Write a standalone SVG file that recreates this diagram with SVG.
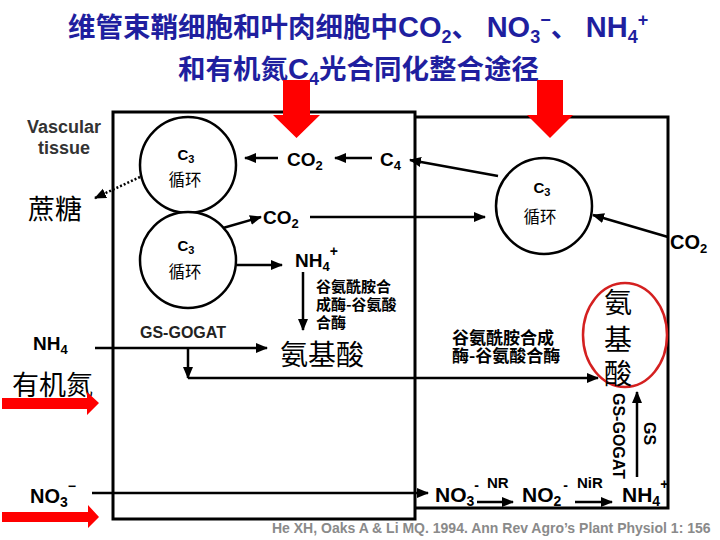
<svg xmlns="http://www.w3.org/2000/svg" width="720" height="540" viewBox="0 0 720 540">
<style>
.title{font-family:"Liberation Sans","Noto Sans CJK SC",sans-serif;font-weight:bold;font-size:27.5px;fill:#1f1f9f}
.lat{font-family:"Liberation Sans",Arial,"Noto Sans CJK SC",sans-serif;font-weight:bold;fill:#000}
.cjk{font-family:"Noto Sans CJK SC",sans-serif;fill:#000}
.cjkb{font-family:"Noto Sans CJK SC",sans-serif;font-weight:bold;fill:#000}
.box{fill:none;stroke:#000;stroke-width:3}
.cyc{fill:#fff;stroke:#000;stroke-width:2.5}
.arr{fill:none;stroke:#000;stroke-width:2.5;marker-end:url(#ah)}
.dot{fill:none;stroke:#000;stroke-width:2.5;stroke-dasharray:2 2;marker-end:url(#ah)}
.red{fill:#ff0000}
</style>
<defs>
<marker id="ah" markerUnits="userSpaceOnUse" markerWidth="13" markerHeight="11" refX="11" refY="5" orient="auto">
<path d="M0,0 L12,5 L0,10 z" fill="#000"/>
</marker>
</defs>
<rect width="720" height="540" fill="#fff"/>

<g id="title">
<text x="68" y="37" class="title">维管束鞘细胞和叶肉细胞中<tspan font-size="29">CO</tspan><tspan font-size="18" dy="6">2</tspan><tspan dy="-6">、 </tspan><tspan font-size="29">NO</tspan><tspan font-size="18" dy="6">3</tspan><tspan font-size="18" dy="-17">−</tspan><tspan dy="11">、 </tspan><tspan font-size="29">NH</tspan><tspan font-size="18" dy="6">4</tspan><tspan font-size="18" dy="-17">+</tspan></text>
<text x="178" y="79" class="title">和有机氮<tspan font-size="29">C</tspan><tspan font-size="18" dy="6">4</tspan><tspan dy="-6">光合同化整合途径</tspan></text>
</g>

<g id="cells">
<path class="box" d="M113,112 H415 V519 H113 Z"/>
<path class="box" d="M415,117 H668 V508 H415"/>
</g>

<g id="c3-cycle-1">
<circle class="cyc" cx="188" cy="165" r="48"/>
<text x="186" y="160" class="lat" font-size="15" text-anchor="middle">C<tspan font-size="11" dy="3">3</tspan></text>
<text x="185" y="186" class="cjk" font-size="16.5" text-anchor="middle">循环</text>
</g>
<g id="c3-cycle-2">
<circle class="cyc" cx="188" cy="260" r="48"/>
<text x="186" y="251" class="lat" font-size="15" text-anchor="middle">C<tspan font-size="11" dy="3">3</tspan></text>
<text x="185" y="278" class="cjk" font-size="16.5" text-anchor="middle">循环</text>
</g>
<g id="c3-cycle-3">
<circle class="cyc" cx="544" cy="206" r="48"/>
<text x="542" y="193" class="lat" font-size="15" text-anchor="middle">C<tspan font-size="11" dy="3">3</tspan></text>
<text x="540" y="223" class="cjk" font-size="16.5" text-anchor="middle">循环</text>
</g>

<g id="labels">
<text x="64" y="133" class="lat" font-size="18" text-anchor="middle" style="fill:#333">Vascular</text>
<text x="64" y="154" class="lat" font-size="18" text-anchor="middle" style="fill:#333">tissue</text>
<text x="28" y="219" class="cjk" font-size="27">蔗糖</text>
<text x="287" y="166" class="lat" font-size="19">CO<tspan font-size="13" dy="4">2</tspan></text>
<text x="380" y="166" class="lat" font-size="19">C<tspan font-size="13" dy="4">4</tspan></text>
<text x="263" y="224" class="lat" font-size="19">CO<tspan font-size="13" dy="4">2</tspan></text>
<text x="295" y="267" class="lat" font-size="19">NH<tspan font-size="13" dy="4">4</tspan><tspan font-size="14" dy="-15">+</tspan></text>
<text x="316" y="292" class="cjkb" font-size="15">谷氨酰胺合</text>
<text x="316" y="310" class="cjkb" font-size="15">成酶-谷氨酸</text>
<text x="316" y="328" class="cjkb" font-size="15">合酶</text>
<text x="140" y="338" class="lat" font-size="16" style="fill:#222">GS-GOGAT</text>
<text x="33" y="350" class="lat" font-size="19">NH<tspan font-size="13" dy="4">4</tspan></text>
<text x="12" y="395" class="cjk" font-size="27">有机氮</text>
<text x="280" y="365" class="cjk" font-size="28">氨基酸</text>
<text x="452" y="344" class="cjkb" font-size="17">谷氨酰胺合成</text>
<text x="452" y="362" class="cjkb" font-size="17">酶-谷氨酸合酶</text>
<text x="670" y="249" class="lat" font-size="20">CO<tspan font-size="13" dy="4">2</tspan></text>
<text transform="translate(613,393) rotate(90)" class="lat" font-size="16">GS-GOGAT</text>
<text transform="translate(644,422) rotate(90)" class="lat" font-size="16">GS</text>
<text x="30" y="503" class="lat" font-size="20">NO<tspan font-size="14" dy="4">3</tspan><tspan font-size="14" dy="-16">−</tspan></text>
<text x="435" y="502" class="lat" font-size="21">NO<tspan font-size="14" dy="4">3</tspan><tspan font-size="14" dy="-16">-</tspan></text>
<text x="487" y="488" class="lat" font-size="15">NR</text>
<text x="522" y="502" class="lat" font-size="21">NO<tspan font-size="14" dy="4">2</tspan><tspan font-size="14" dy="-16" dx="2">-</tspan></text>
<text x="577" y="488" class="lat" font-size="15">NiR</text>
<text x="622" y="502" class="lat" font-size="21">NH<tspan font-size="14" dy="4">4</tspan><tspan font-size="14" dy="-17">+</tspan></text>
<text x="272" y="533" class="lat" font-size="14" style="fill:#8a8a8a">He XH, Oaks A &amp; Li MQ. 1994. Ann Rev Agro’s Plant Physiol 1: 156</text>
</g>

<g id="amino-acid-mesophyll">
<ellipse cx="625" cy="335" rx="42" ry="52" fill="none" stroke="#d42020" stroke-width="2.5"/>
<text x="618" y="313" class="cjk" font-size="28" text-anchor="middle">氨</text>
<text x="618" y="350" class="cjk" font-size="28" text-anchor="middle">基</text>
<text x="618" y="384" class="cjk" font-size="28" text-anchor="middle">酸</text>
</g>

<g id="connectors">
<path class="arr" d="M278,158 H245"/>
<path class="arr" d="M372,158 H335"/>
<path class="arr" d="M498,176 L410,160"/>
<path class="arr" d="M223,228 L261,217"/>
<path class="arr" d="M310,217 H485"/>
<path class="arr" d="M237,265 H282"/>
<path class="arr" d="M303,272 V330"/>
<path class="arr" d="M95,348 H267"/>
<path class="arr" d="M188,348 V378"/>
<path class="arr" d="M188,378 H598"/>
<path class="dot" d="M140,177 L95,198"/>
<path class="arr" d="M668,237 L593,215"/>
<path class="arr" d="M637,477 V392"/>
<path class="arr" d="M92,493 H428"/>
<path class="arr" d="M477,502 H513"/>
<path class="arr" d="M575,502 H612"/>
</g>

<g id="red-arrows">
<polygon class="red" points="283,80 310,80 310,115 320,115 296.5,138 273,115 283,115"/>
<polygon class="red" points="537,80 563,80 563,115 573,115 550,138 527,115 537,115"/>
<polygon class="red" points="2,398 87,398 87,392 99,403 87,415 87,409 2,409"/>
<polygon class="red" points="2,512 88,512 88,505 99,517 88,528 88,522 2,522"/>
</g>
</svg>
